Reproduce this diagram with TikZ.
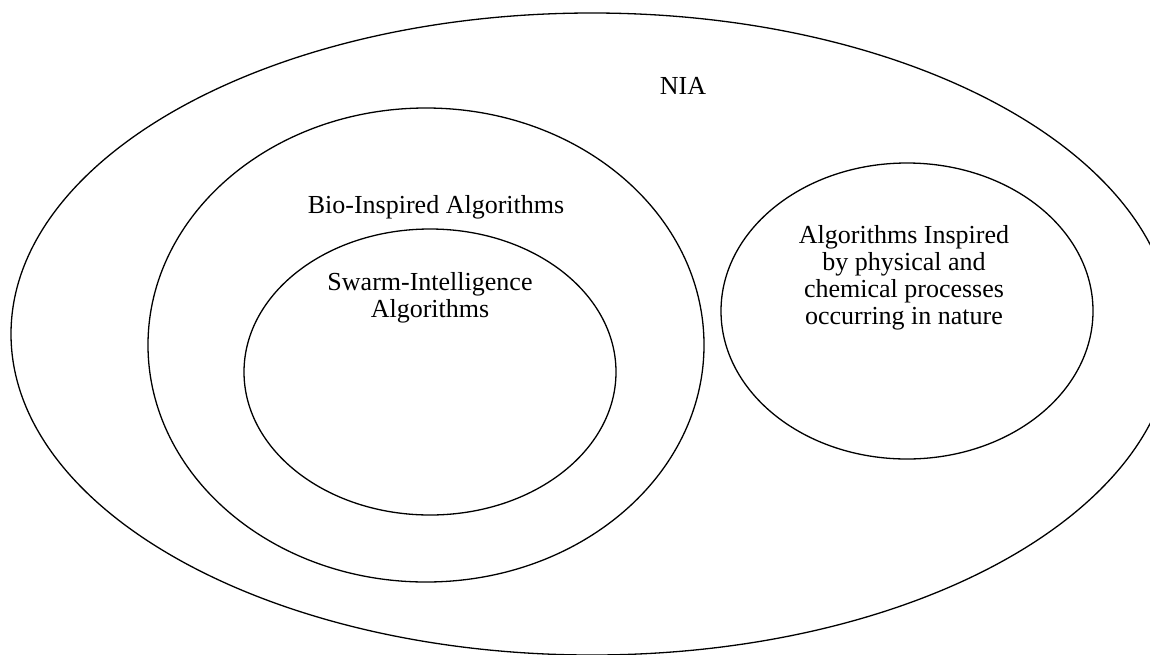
\documentclass[tikz,border=0pt]{standalone}
\usepackage{fontspec}
\setmainfont{Liberation Serif}
\usetikzlibrary{shapes.geometric}

\begin{document}
\begin{tikzpicture}[
    x=1pt, y=-1pt,
    set/.style={ellipse, draw, line width=1.3pt, inner sep=0pt},
    label/.style={font=\fontsize{26}{27}\selectfont, align=center}
]
\useasboundingbox (0,0) rectangle (1150,654);
\clip (0,0) rectangle (1150,654);

% Nested sets
\node[set, minimum width=1162pt, minimum height=642pt] (nia) at (592,334) {};
\node[set, minimum width=556pt, minimum height=474pt] (bio) at (426,345) {};
\node[set, minimum width=372pt, minimum height=286pt] (swarm) at (430,372) {};
\node[set, minimum width=372pt, minimum height=296pt] (phys) at (907,311) {};

% Labels
\node[label] (nia_label) at (683,86) {NIA};
\node[label] (bio_label) at (436,207) {Bio-Inspired Algorithms};
\node[label] (swarm_label) at (430,298) {Swarm-Intelligence\\Algorithms};
\node[label] (phys_label) at (904,278) {Algorithms Inspired\\by physical and\\chemical processes\\occurring in nature};

\end{tikzpicture}
\end{document}
